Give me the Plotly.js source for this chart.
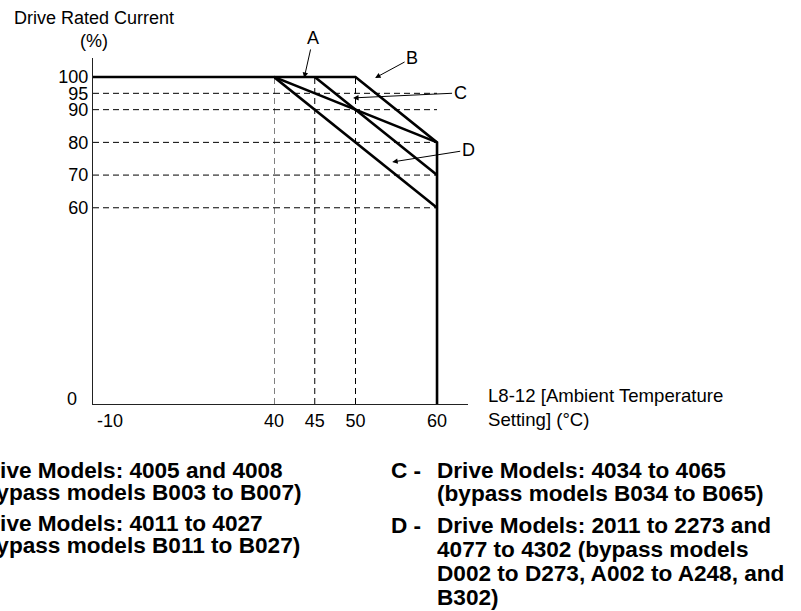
<!DOCTYPE html>
<html>
<head>
<meta charset="utf-8">
<script src="https://cdn.plot.ly/plotly-3.0.1.min.js"></script>
<style>html,body{margin:0;padding:0;background:#fff;}#chart{width:801px;height:611px;}</style>
</head>
<body>
<div id="chart"></div>
<script>
// ---- data ----
const yTickVals = [60, 70, 80, 90, 95, 100];
const yZeroLabel = '0';
const xTickLeft = [-10];
const xTickLeftText = ['-10'];
const xTickRight = [40, 45, 50, 60];
// rated current curves (ambient °C, %)
const flatX = [-15.2, 40];          // 100 % plateau on the compressed left part
const flatY = [100, 100];
const curveBx = [40, 50, 60, 60];
const curveBy = [100, 100, 80, 0];
const curveAx = [40, 60];
const curveAy = [100, 80];
const curveCx = [45, 60];
const curveCy = [100, 70];
const curveDx = [40, 60];
const curveDy = [100, 60];
// guide lines
const hGuides = [95, 90, 80, 70, 60];
const vGuides = [40, 45, 50];
// callout labels and where they point
const calloutLabels = ['A', 'B', 'C', 'D'];
const calloutX = [43.7, 52.4, 49.7, 54.5];
const calloutY = [99.7, 99.7, 93.6, 74.0];
const calloutDx = [9, 37, 107, 76];
const calloutDy = [-40, -20, -5, -12];
// legend notes
const notePrefix = ['A -', 'B -', 'C -', 'D -'];
const noteLines = [
  ['Drive Models: 4005 and 4008', '(bypass models B003 to B007)'],
  ['Drive Models: 4011 to 4027', '(bypass models B011 to B027)'],
  ['Drive Models: 4034 to 4065', '(bypass models B034 to B065)'],
  ['Drive Models: 2011 to 2273 and', '4077 to 4302 (bypass models', 'D002 to D273, A002 to A248, and', 'B302)']
];

// ---- layout geometry ----
const L = 93, R = 468, T = 58, B = 404;
const W = 801, H = 611;
const px2x = p => (p - L) / (R - L);
const px2y = p => (B - p) / (B - T);
const split = px2x(274);
const font = 'Liberation Sans, Arial, sans-serif';

const solid = {color: '#000', width: 2.6};
const dashed = {color: '#000', width: 1, dash: '6px,4px'};

const traces = [];
hGuides.forEach(v => {
  traces.push({x: [flatX[0], 40], y: [v, v], xaxis: 'x', yaxis: 'y', mode: 'lines', line: dashed, hoverinfo: 'skip'});
  traces.push({x: [40, 60], y: [v, v], xaxis: 'x2', yaxis: 'y', mode: 'lines', line: dashed, hoverinfo: 'skip'});
});
vGuides.forEach(v => {
  traces.push({x: [v, v], y: [0, 100], xaxis: 'x2', yaxis: 'y', mode: 'lines', line: dashed, hoverinfo: 'skip'});
});
traces.push({x: flatX, y: flatY, xaxis: 'x', yaxis: 'y', mode: 'lines', line: solid});
traces.push({x: curveBx, y: curveBy, xaxis: 'x2', yaxis: 'y', mode: 'lines', line: solid});
traces.push({x: curveAx, y: curveAy, xaxis: 'x2', yaxis: 'y', mode: 'lines', line: solid});
traces.push({x: curveCx, y: curveCy, xaxis: 'x2', yaxis: 'y', mode: 'lines', line: solid});
traces.push({x: curveDx, y: curveDy, xaxis: 'x2', yaxis: 'y', mode: 'lines', line: solid});

const annotations = [];
calloutLabels.forEach((t, i) => {
  annotations.push({
    text: t, x: calloutX[i], y: calloutY[i], xref: 'x2', yref: 'y',
    ax: calloutDx[i], ay: calloutDy[i], showarrow: true,
    arrowhead: 2, arrowsize: 1.1, arrowwidth: 1, arrowcolor: '#000', standoff: 0,
    font: {family: font, size: 18, color: '#000'}
  });
});
// zero label of the y axis (sits left and slightly above the axis in the reference)
annotations.push({text: yZeroLabel, xref: 'paper', yref: 'y', x: px2x(72), y: 0, yshift: 5,
  xanchor: 'center', yanchor: 'middle', showarrow: false, font: {family: font, size: 18, color: '#000'}});
// axis titles
annotations.push({text: 'Drive Rated Current<br>(%)', xref: 'paper', yref: 'paper',
  x: px2x(94), y: px2y(6), xanchor: 'center', yanchor: 'top', showarrow: false, align: 'center',
  font: {family: font, size: 18, color: '#000'}});
annotations.push({text: 'L8-12 [Ambient Temperature<br>Setting] (°C)', xref: 'paper', yref: 'paper',
  x: px2x(486), y: px2y(383), xanchor: 'left', yanchor: 'top', showarrow: false, align: 'left',
  font: {family: font, size: 18.6, color: '#000'}});
// notes
const colPrefixX = [-73, -73, 389, 389];
const colBodyX = [-27, -27, 435, 435];
const rowStartY = [470, 523, 470, 525];
const lineStep = [22.5, 22.5, 23, 24.3];
notePrefix.forEach((p, i) => {
  annotations.push({text: '<b>' + p + '</b>', xref: 'paper', yref: 'paper',
    x: px2x(colPrefixX[i]), y: px2y(rowStartY[i]), xanchor: 'left', yanchor: 'middle', showarrow: false,
    font: {family: font, size: 22.6, color: '#000'}});
  noteLines[i].forEach((ln, j) => {
    annotations.push({text: '<b>' + ln + '</b>', xref: 'paper', yref: 'paper',
      x: px2x(colBodyX[i]), y: px2y(rowStartY[i] + j * lineStep[i]), xanchor: 'left', yanchor: 'middle', showarrow: false,
      font: {family: font, size: 22.6, color: '#000'}});
  });
});

const axisCommon = {showgrid: false, zeroline: false, ticks: '', showline: true, linecolor: '#222', linewidth: 1.2,
  tickfont: {family: font, size: 18, color: '#000'}, fixedrange: true};

const layout = {
  width: W, height: H,
  margin: {l: L, r: W - R, t: T, b: H - B, pad: 0},
  paper_bgcolor: '#fff', plot_bgcolor: '#fff',
  showlegend: false,
  xaxis: Object.assign({}, axisCommon, {domain: [0, split], range: [flatX[0], 40], tickmode: 'array', tickvals: xTickLeft, ticktext: xTickLeftText, anchor: 'y'}),
  xaxis2: Object.assign({}, axisCommon, {domain: [split, 1], range: [40, 63.8], tickmode: 'array', tickvals: xTickRight, anchor: 'y'}),
  yaxis: Object.assign({}, axisCommon, {range: [0, 105.8], tickmode: 'array', tickvals: yTickVals, anchor: 'x'}),
  annotations: annotations
};

Plotly.newPlot('chart', traces, layout, {displayModeBar: false, staticPlot: true});
</script>
</body>
</html>
